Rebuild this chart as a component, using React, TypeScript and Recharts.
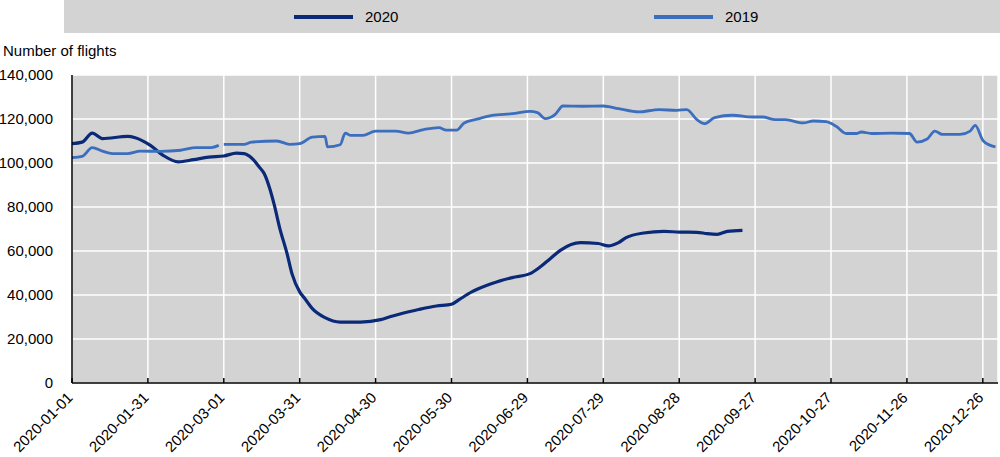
import React from 'react';
import { LineChart, Line, XAxis, YAxis, CartesianGrid } from 'recharts';

// Day offsets from 2020-01-01 and number of flights (7-day average)
const days2020 = [0, 4, 8, 12, 22, 25, 31, 36, 42, 48, 54, 60, 65, 68, 71, 74, 76, 78, 80, 82, 85, 87, 90, 92, 95, 100, 106, 114, 122, 126, 130, 137, 144, 150, 153, 158, 166, 174, 181, 185, 189, 193, 201, 208, 212, 216, 219, 226, 234, 240, 247, 251, 255, 259, 265];
const flights2020 = [108800, 109500, 113600, 111100, 112100, 111500, 108000, 103500, 100500, 101500, 102700, 103200, 104500, 104300, 102300, 98200, 95100, 89000, 80700, 70900, 58800, 49500, 41400, 38400, 33800, 29700, 27700, 27700, 28800, 30200, 31500, 33400, 35000, 35800, 37900, 41400, 45200, 47900, 49700, 52700, 56500, 60300, 63800, 63400, 62300, 63800, 66100, 68200, 68900, 68600, 68500, 67900, 67600, 68900, 69400];

const days2019 = [0, 4, 8, 12, 16, 22, 27, 35, 43, 49, 55, 58, 59, 60, 68, 71, 81, 86, 90, 95, 100, 101, 106, 108, 110, 115, 120, 128, 133, 139, 145, 148, 152, 155, 160, 166, 174, 181, 184, 187, 191, 194, 202, 210, 216, 224, 232, 239, 243, 247, 250, 254, 261, 269, 273, 278, 282, 289, 293, 298, 302, 306, 310, 312, 316, 324, 331, 334, 338, 341, 344, 351, 355, 357, 360, 363, 365];
const flights2019: (number | null)[] = [102400, 103000, 107000, 105400, 104300, 104300, 105400, 105300, 105800, 107000, 107000, 108000, null, 108500, 108500, 109500, 110000, 108500, 108800, 111800, 112100, 107300, 108300, 113600, 112600, 112600, 114500, 114500, 113600, 115200, 116100, 114900, 114900, 118200, 119900, 121700, 122400, 123500, 122900, 120200, 122100, 125900, 125800, 125900, 124700, 123200, 124300, 123900, 124300, 119700, 117900, 120600, 121700, 120900, 120900, 119700, 119700, 118200, 119100, 118800, 116700, 113400, 113400, 114100, 113400, 113600, 113400, 109500, 110900, 114500, 113000, 113000, 114500, 117100, 110300, 108000, 107300];

const xTicks = [0, 30, 60, 90, 120, 150, 180, 210, 240, 270, 300, 330, 360];
const xTickLabels = ['2020-01-01', '2020-01-31', '2020-03-01', '2020-03-31', '2020-04-30', '2020-05-30', '2020-06-29', '2020-07-29', '2020-08-28', '2020-09-27', '2020-10-27', '2020-11-26', '2020-12-26'];
const yTicks = [0, 20000, 40000, 60000, 80000, 100000, 120000, 140000];

const seriesNames = ['2020', '2019'];
const seriesColors = ['#0a2a78', '#3c6ebe'];

const data2020 = days2020.map((d, i) => ({ day: d, value: flights2020[i] }));
const data2019 = days2019.map((d, i) => ({ day: d, value: flights2019[i] }));

const FONT = '"Liberation Sans", Arial, sans-serif';

const XTick = (props: any) => {
  const { x, y, payload } = props;
  const idx = xTicks.indexOf(payload.value);
  const tx = x - 2;
  return (
    <text
      x={tx}
      y={y}
      transform={`rotate(-45 ${tx} ${y})`}
      textAnchor="end"
      fontSize={15}
      fontFamily={FONT}
      fill="#000"
      dy="0.35em"
    >
      {xTickLabels[idx]}
    </text>
  );
};

export default function App() {
  return (
    <div style={{ position: 'absolute', left: 0, top: 0, width: 1000, height: 457, fontFamily: FONT }}>
      <div style={{ position: 'absolute', left: 64, top: 0, width: 936, height: 33, background: '#d3d3d3' }} />
      {seriesNames.map((name, i) => (
        <div key={name} style={{ position: 'absolute', left: i === 0 ? 294 : 654, top: 0, height: 33, display: 'flex', alignItems: 'center' }}>
          <div style={{ width: 59, height: 4, background: seriesColors[i] }} />
          <span style={{ marginLeft: 12, fontSize: 15, color: '#000' }}>{name}</span>
        </div>
      ))}
      <div style={{ position: 'absolute', left: 3, top: 42, fontSize: 15, color: '#000', whiteSpace: 'nowrap' }}>Number of flights</div>
      <div style={{ position: 'absolute', left: 0, top: 0 }}>
        <LineChart width={1000} height={457} margin={{ top: 75, right: 2, bottom: 0, left: 0 }}>
          <CartesianGrid stroke="#ffffff" strokeWidth={1.5} fill="#d3d3d3" fillOpacity={1} />
          <XAxis
            dataKey="day"
            type="number"
            domain={[0, 366]}
            ticks={xTicks}
            height={74}
            axisLine={{ stroke: '#000', strokeWidth: 1.5 }}
            tickLine={{ stroke: '#000', strokeWidth: 1.5 }}
            tickSize={-5}
            tickMargin={17}
            tick={<XTick />}
            allowDataOverflow
          />
          <YAxis
            type="number"
            domain={[0, 140000]}
            ticks={yTicks}
            width={72}
            axisLine={{ stroke: '#000', strokeWidth: 1.5 }}
            tickLine={false}
            tickSize={0}
            tickMargin={19}
            tickFormatter={(v: number) => v.toLocaleString('en-US')}
            tick={{ fontSize: 15, fontFamily: FONT, fill: '#000' }}
          />
          <Line data={data2020} dataKey="value" name="2020" type="monotone" stroke={seriesColors[0]} strokeWidth={3.2} dot={false} isAnimationActive={false} />
          <Line data={data2019} dataKey="value" name="2019" type="monotone" stroke={seriesColors[1]} strokeWidth={2.8} dot={false} isAnimationActive={false} />
        </LineChart>
      </div>
    </div>
  );
}
